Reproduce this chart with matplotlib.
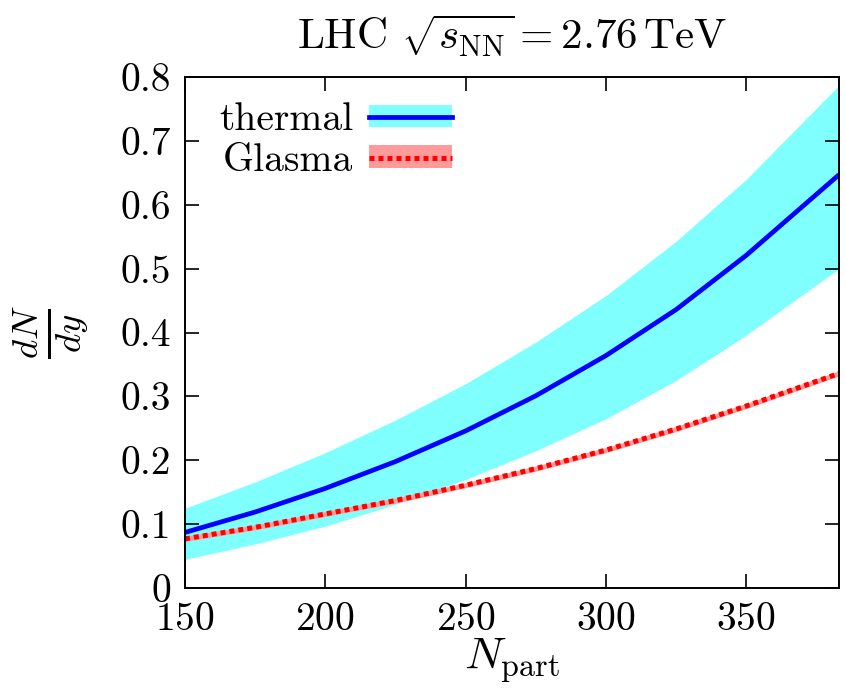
import matplotlib

matplotlib.use("Agg")
import matplotlib.pyplot as plt
from matplotlib.lines import Line2D
from matplotlib.patches import Patch

plt.rcParams["font.family"] = "serif"
plt.rcParams["font.serif"] = ["cmr10", "DejaVu Serif"]
plt.rcParams["mathtext.fontset"] = "cm"
plt.rcParams["axes.formatter.use_mathtext"] = True

# dN/dy vs N_part, LHC 2.76 TeV
n_part = [150, 175, 200, 225, 250, 275, 300, 325, 350, 383]
thermal = [0.087, 0.119, 0.156, 0.198, 0.246, 0.301, 0.364, 0.436, 0.521, 0.647]
thermal_hi = [0.125, 0.166, 0.212, 0.263, 0.320, 0.385, 0.458, 0.543, 0.640, 0.787]
thermal_lo = [0.045, 0.069, 0.097, 0.131, 0.170, 0.215, 0.265, 0.325, 0.396, 0.500]
glasma = [0.077, 0.095, 0.116, 0.137, 0.161, 0.187, 0.216, 0.249, 0.285, 0.336]
glasma_err = 0.004

CYAN = "#80ffff"
PINK = "#ff9a9a"
DOTS = (0, (1, 0.8))

fig = plt.figure(figsize=(8.46, 6.9), dpi=100)
ax = fig.add_axes([0.2187, 0.1478, 0.9917 - 0.2187, 0.8884 - 0.1478])

ax.fill_between(n_part, thermal_lo, thermal_hi, color=CYAN, lw=0)
ax.fill_between(n_part, [g - glasma_err for g in glasma], [g + glasma_err for g in glasma],
                color=PINK, lw=0)
ax.plot(n_part, thermal, color="#0000ff", lw=3.4, solid_capstyle="butt", solid_joinstyle="round")
ax.plot(n_part, glasma, color="#ff0000", lw=3.6, linestyle=DOTS)

ax.set_xlim(150, 383)
ax.set_ylim(0, 0.8)
ax.set_xticks([150, 200, 250, 300, 350])
ax.set_yticks([0, 0.1, 0.2, 0.3, 0.4, 0.5, 0.6, 0.7, 0.8])
ax.set_yticklabels(["0", "0.1", "0.2", "0.3", "0.4", "0.5", "0.6", "0.7", "0.8"])
ax.tick_params(direction="in", length=10, width=1.2, labelsize=28.5, pad=10,
               top=True, right=True)
ax.tick_params(axis="x", pad=10)
for spine in ax.spines.values():
    spine.set_linewidth(1.4)

ax.set_xlabel(r"$N_{\rm part}$", fontsize=33, labelpad=-1)
ax.set_ylabel(r"$\frac{dN}{dy}$", fontsize=38, rotation=90, va="center")
ax.yaxis.set_label_coords(-0.205, 0.5)
ax.set_title(r"LHC $\sqrt{s_{\rm NN}} = 2.76\,$TeV", fontsize=31, pad=20)

h_thermal = (Patch(facecolor=CYAN, lw=0), Line2D([], [], color="#0000ff", lw=3.4))
h_glasma = (Patch(facecolor=PINK, lw=0), Line2D([], [], color="#ff0000", lw=3.6, linestyle=DOTS))
ax.legend([h_thermal, h_glasma], ["thermal", "Glasma"], loc="upper left",
          bbox_to_anchor=(0.01, 1.005), frameon=False, markerfirst=False, fontsize=28.5,
          handlelength=2.1, handleheight=0.5, handletextpad=0.4, labelspacing=0.12,
          borderaxespad=0.3)

fig.savefig("out.png", dpi=100)
